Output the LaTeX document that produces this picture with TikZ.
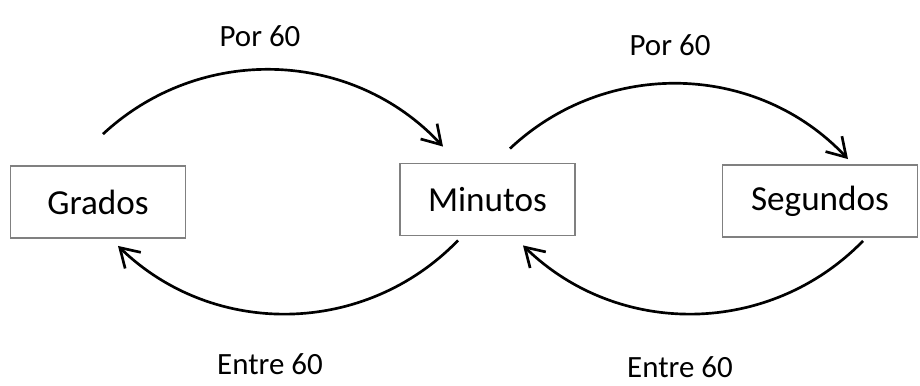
\documentclass[tikz,border=0pt]{standalone}
\usepackage{fontspec}
\setmainfont{Carlito}
\usetikzlibrary{arrows.meta}

\tikzset{
	caja/.style={draw=black!50, line width=1.3pt, inner sep=0pt, minimum height=1.8cm, font=\fontsize{25}{29}\selectfont},
	flecha/.style={line width=1.9pt, -{Straight Barb[length=13pt, width=16pt]}, bend left=45},
	etiqueta/.style={font=\fontsize{22}{26}\selectfont}
}

\begin{document}
\begin{tikzpicture}[x=0.025cm, y=-0.025cm]
		%%%%% START %%%%%
		
		\useasboundingbox (0, 0) rectangle (920, 386);
		
		\node[caja, minimum width=4.375cm] (grados) at (98, 202) {Grados};
		\node[caja, minimum width=4.375cm] (minutos) at (487.5, 199.5) {Minutos};
		\node[caja, minimum width=4.875cm] (segundos) at (820, 201) {Segundos};
		
		% por 60, hacia la derecha
		\draw[flecha] ([shift={(5, -31)}]grados.north) to ([shift={(-44.5, -16)}]minutos.north);
		\draw[flecha] ([shift={(22.5, -14)}]minutos.north) to ([shift={(28, -5)}]segundos.north);
		
		% entre 60, de vuelta
		\draw[flecha] ([shift={(43, 3)}]segundos.south) to ([shift={(35.5, 9)}]minutos.south);
		\draw[flecha] ([shift={(-29.5, 4)}]minutos.south) to ([shift={(20, 7)}]grados.south);
		
		\node[etiqueta] (por1) at (260, 36) {Por 60};
		\node[etiqueta] (por2) at (670, 45) {Por 60};
		\node[etiqueta] (entre1) at (270, 364) {Entre 60};
		\node[etiqueta] (entre2) at (680, 367) {Entre 60};
		
		%%%%% END %%%%%
	\end{tikzpicture}
\end{document}
